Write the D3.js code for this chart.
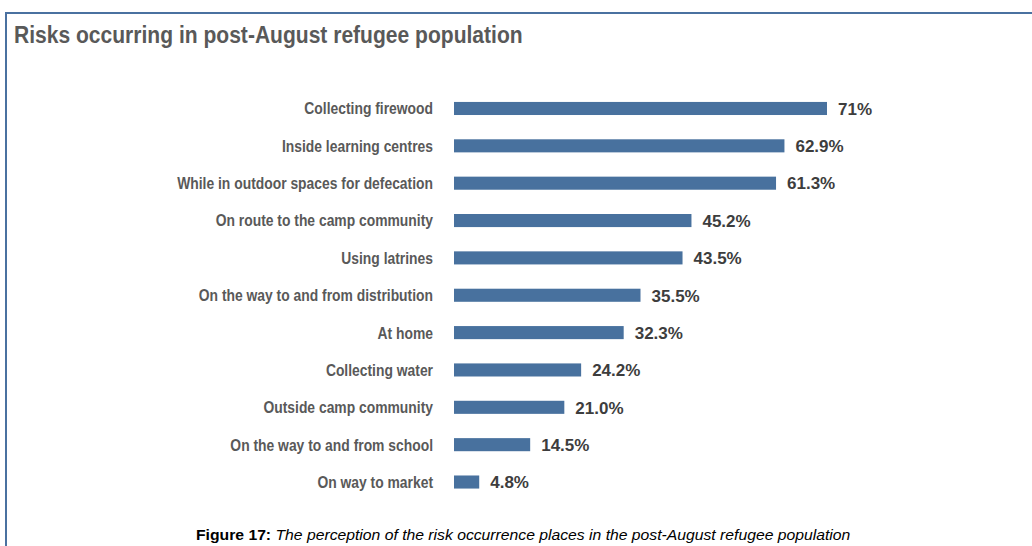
<!DOCTYPE html>
<html><head><meta charset="utf-8">
<script src="https://cdn.jsdelivr.net/npm/d3@7"></script>
<style>
html,body{margin:0;padding:0;background:#fff;}
svg{display:block;}
</style>
</head><body>
<svg id="chart" width="1032" height="546"></svg>
<script>
const categories = [
  "Collecting firewood",
  "Inside learning centres",
  "While in outdoor spaces for defecation",
  "On route to the camp community",
  "Using latrines",
  "On the way to and from distribution",
  "At home",
  "Collecting water",
  "Outside camp community",
  "On the way to and from school",
  "On way to market"
];
const values = [71, 62.9, 61.3, 45.2, 43.5, 35.5, 32.3, 24.2, 21.0, 14.5, 4.8];
const valueLabels = ["71%", "62.9%", "61.3%", "45.2%", "43.5%", "35.5%", "32.3%", "24.2%", "21.0%", "14.5%", "4.8%"];
const titleText = "Risks occurring in post-August refugee population";
const captionLead = "Figure 17:";
const captionText = " The perception of the risk occurrence places in the post-August refugee population";

const svg = d3.select("#chart");
const sans = "'Liberation Sans',Arial,Helvetica,sans-serif";

// frame
svg.append("path")
  .attr("d", "M6,560 V13 H1040")
  .attr("fill", "none")
  .attr("stroke", "#4a71a0")
  .attr("stroke-width", 2);

// title (condensed look via horizontal scaling)
const tg = svg.append("g");
const title = tg.append("text")
  .attr("x", 0).attr("y", 0)
  .attr("font-family", sans)
  .attr("font-weight", "bold")
  .attr("font-size", 23.5)
  .attr("fill", "#595959")
  .text(titleText);
const tw = title.node().getComputedTextLength();
tg.attr("transform", `translate(14,43) scale(${509 / tw},1)`);

const x = d3.scaleLinear().domain([0, 71]).range([454, 827]);
const y = d3.scaleBand().domain(categories).range([89.8, 500.7]).paddingInner(0.65).paddingOuter(0.325);

const g = svg.append("g");
g.selectAll("rect.bar").data(categories).join("rect")
  .attr("class", "bar")
  .attr("x", x(0))
  .attr("y", d => y(d))
  .attr("width", (d, i) => x(values[i]) - x(0))
  .attr("height", y.bandwidth())
  .attr("fill", "#48719e");

const yAxis = d3.axisLeft(y).tickSize(0).tickPadding(0);
const ax = svg.append("g").call(yAxis);
ax.select(".domain").remove();
ax.selectAll("text")
  .attr("font-family", sans)
  .attr("font-weight", "bold")
  .attr("font-size", 16.5)
  .attr("dy", "0.36em")
  .attr("fill", "#595959");
let widest = 0;
ax.selectAll("text").each(function() { widest = Math.max(widest, this.getComputedTextLength()); });
ax.attr("transform", `translate(433,0) scale(${256 / widest},1)`);

g.selectAll("text.val").data(categories).join("text")
  .attr("class", "val")
  .attr("x", (d, i) => x(values[i]) + 11)
  .attr("y", d => y(d) + y.bandwidth() / 2)
  .attr("dy", "0.37em")
  .attr("font-family", sans)
  .attr("font-weight", "bold")
  .attr("font-size", 17)
  .attr("fill", "#3d3d3d")
  .text((d, i) => valueLabels[i]);

const cg = svg.append("g");
const cap = cg.append("text")
  .attr("x", 0).attr("y", 0)
  .attr("font-family", sans)
  .attr("font-size", 14)
  .attr("fill", "#000");
cap.append("tspan").attr("font-weight", "bold").text(captionLead);
cap.append("tspan").attr("font-style", "italic").text(captionText);
const cw = cap.node().getComputedTextLength();
cg.attr("transform", `translate(196,540) scale(${655 / cw},1)`);
</script>
</body></html>
